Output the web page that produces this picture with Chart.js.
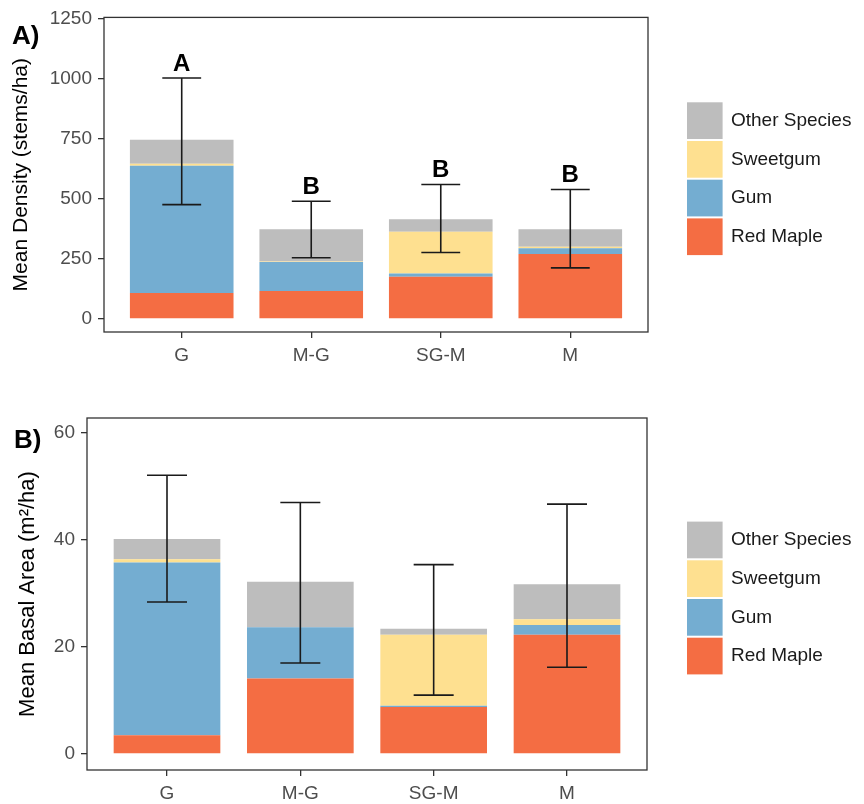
<!DOCTYPE html>
<html>
<head>
<meta charset="utf-8">
<title>Stand density and basal area by forest type</title>
<script src="https://cdn.jsdelivr.net/npm/chart.js@4.4.1/dist/chart.umd.min.js"></script>
<style>
  html, body { margin: 0; padding: 0; background: #fff; }
  #wrap { position: relative; width: 864px; height: 804px; }
  .panel { position: absolute; left: 0; width: 864px; }
  #panelA { top: 0; height: 400px; }
  #panelB { top: 400px; height: 404px; }
</style>
</head>
<body>
<div id="wrap">
  <div class="panel" id="panelA"><canvas id="chartA"></canvas></div>
  <div class="panel" id="panelB"><canvas id="chartB"></canvas></div>
</div>
<script>
// forest types on the x axis
const CATEGORIES = ['G', 'M-G', 'SG-M', 'M'];
// stacking order, bottom to top
const SPECIES = ['Red Maple', 'Gum', 'Sweetgum', 'Other Species'];
const SPECIES_COLORS = ['#F46D43', '#74ADD1', '#FEE090', '#BDBDBD'];

// A) mean density (stems/ha) - height of each stacked layer
const densityRedMaple = [107, 116, 175, 270];
const densityGum      = [530, 120, 13, 23];
const densitySweetgum = [8, 2, 174, 7];
const densityOther    = [100, 135, 52, 73];
// error bar ends and group letters
const densityLower = [475, 254, 276, 212];
const densityUpper = [1002, 489, 559, 538];
const densityLetters = ['A', 'B', 'B', 'B'];
const densityTicks = [0, 250, 500, 750, 1000, 1250];

// B) mean basal area (m2/ha) - height of each stacked layer
const basalRedMaple = [3.5, 14.1, 8.8, 22.3];
const basalGum      = [32.3, 9.6, 0.2, 1.8];
const basalSweetgum = [0.6, 0, 13.3, 1.1];
const basalOther    = [3.8, 8.5, 1.1, 6.5];
const basalLower = [28.4, 17.0, 11.0, 16.2];
const basalUpper = [52.1, 47.0, 35.4, 46.7];
const basalTicks = [0, 20, 40, 60];

const FONT = '"Liberation Sans", Arial, Helvetica, sans-serif';

// error bars, significance letters, panel frame, panel tag and legend
const panelDecor = {
    id: 'panelDecor',
    afterDatasetsDraw(chart, args, opts) {
        const { ctx, chartArea: a, scales: { x, y } } = chart;
        ctx.save();

        // error bars
        const half = x.getPixelForValue(0.15) - x.getPixelForValue(0);
        ctx.strokeStyle = '#1a1a1a';
        ctx.lineWidth = 1.6;
        opts.lower.forEach((lo, i) => {
            const px = x.getPixelForValue(i);
            const yl = y.getPixelForValue(lo);
            const yh = y.getPixelForValue(opts.upper[i]);
            ctx.beginPath();
            ctx.moveTo(px, yl); ctx.lineTo(px, yh);
            ctx.moveTo(px - half, yl); ctx.lineTo(px + half, yl);
            ctx.moveTo(px - half, yh); ctx.lineTo(px + half, yh);
            ctx.stroke();
            if (opts.letters) {
                ctx.fillStyle = '#000';
                ctx.font = 'bold 24px ' + FONT;
                ctx.textAlign = 'center';
                ctx.textBaseline = 'alphabetic';
                ctx.fillText(opts.letters[i], px, yh - 7);
            }
        });

        // panel border
        ctx.strokeStyle = '#333';
        ctx.lineWidth = 1.3;
        ctx.strokeRect(a.left, a.top, a.width, a.height);

        // panel tag
        ctx.fillStyle = '#000';
        ctx.font = 'bold 26px ' + FONT;
        ctx.textAlign = 'left';
        ctx.textBaseline = 'alphabetic';
        ctx.fillText(opts.tag, opts.tagX, opts.tagY);

        // legend, top entry is the last stacked layer
        const keyW = 35.6, keyH = 36.7, pitch = 38.7;
        const items = chart.data.datasets.slice().reverse();
        const cy = (a.top + a.bottom) / 2 + 4;
        const top = cy - (items.length * pitch - (pitch - keyH)) / 2;
        ctx.font = '19px ' + FONT;
        ctx.textBaseline = 'middle';
        items.forEach((ds, k) => {
            const ky = top + k * pitch;
            ctx.fillStyle = ds.backgroundColor;
            ctx.fillRect(687, ky, keyW, keyH);
            ctx.fillStyle = '#1a1a1a';
            ctx.fillText(ds.label, 731, ky + keyH / 2);
        });

        ctx.restore();
    }
};

function buildPanel(canvasId, cfg) {
    const datasets = SPECIES.map((name, k) => ({
        label: name,
        data: cfg.layers[k].map((v, i) => ({ x: i, y: v })),
        backgroundColor: SPECIES_COLORS[k],
        borderWidth: 0,
        barPercentage: 0.8,
        categoryPercentage: 1
    }));

    const tickMarks = {
        display: true,
        offset: false,
        drawOnChartArea: false,
        drawTicks: true,
        tickLength: 6,
        color: '#333',
        lineWidth: 1.3
    };

    return new Chart(document.getElementById(canvasId), {
        type: 'bar',
        data: { datasets },
        plugins: [panelDecor],
        options: {
            responsive: true,
            maintainAspectRatio: false,
            animation: false,
            events: [],
            layout: { padding: cfg.padding },
            plugins: {
                legend: { display: false },
                tooltip: { enabled: false },
                panelDecor: {
                    lower: cfg.lower,
                    upper: cfg.upper,
                    letters: cfg.letters,
                    tag: cfg.tag,
                    tagX: cfg.tagX,
                    tagY: cfg.tagY
                }
            },
            scales: {
                x: {
                    type: 'linear',
                    stacked: true,
                    offset: false,
                    min: -0.6,
                    max: 3.6,
                    afterBuildTicks: s => { s.ticks = CATEGORIES.map((c, i) => ({ value: i })); },
                    afterFit: s => { s.height = cfg.xHeight; },
                    ticks: {
                        callback: v => CATEGORIES[v],
                        autoSkip: false,
                        maxRotation: 0,
                        padding: 6,
                        color: '#4D4D4D',
                        font: { size: 19, family: FONT }
                    },
                    grid: tickMarks,
                    border: { display: false }
                },
                y: {
                    stacked: true,
                    min: cfg.yMin,
                    max: cfg.yMax,
                    afterBuildTicks: s => { s.ticks = cfg.yTicks.map(v => ({ value: v })); },
                    afterFit: s => { s.width = cfg.yWidth; },
                    ticks: {
                        callback: v => String(v),
                        padding: 6,
                        color: '#4D4D4D',
                        font: { size: 19, family: FONT }
                    },
                    grid: tickMarks,
                    border: { display: false },
                    title: {
                        display: true,
                        text: cfg.yTitle,
                        color: '#000',
                        font: { size: cfg.titleSize, family: FONT },
                        padding: { top: cfg.titlePad, bottom: 0 }
                    }
                }
            }
        }
    });
}

buildPanel('chartA', {
    layers: [densityRedMaple, densityGum, densitySweetgum, densityOther],
    lower: densityLower,
    upper: densityUpper,
    letters: densityLetters,
    yTicks: densityTicks,
    yMin: -55,
    yMax: 1254,
    yTitle: 'Mean Density (stems/ha)',
    titleSize: 21,
    titlePad: 9,
    yWidth: 104,
    xHeight: 68,
    padding: { top: 13, right: 216, bottom: 0, left: 0 },
    tag: 'A)', tagX: 12, tagY: 44
});

buildPanel('chartB', {
    layers: [basalRedMaple, basalGum, basalSweetgum, basalOther],
    lower: basalLower,
    upper: basalUpper,
    letters: null,
    yTicks: basalTicks,
    yMin: -3.0,
    yMax: 62.8,
    yTitle: 'Mean Basal Area (m²/ha)',
    titleSize: 22,
    titlePad: 15,
    yWidth: 87,
    xHeight: 34,
    padding: { top: 18, right: 217, bottom: 0, left: 0 },
    tag: 'B)', tagX: 14, tagY: 48
});
</script>
</body>
</html>
